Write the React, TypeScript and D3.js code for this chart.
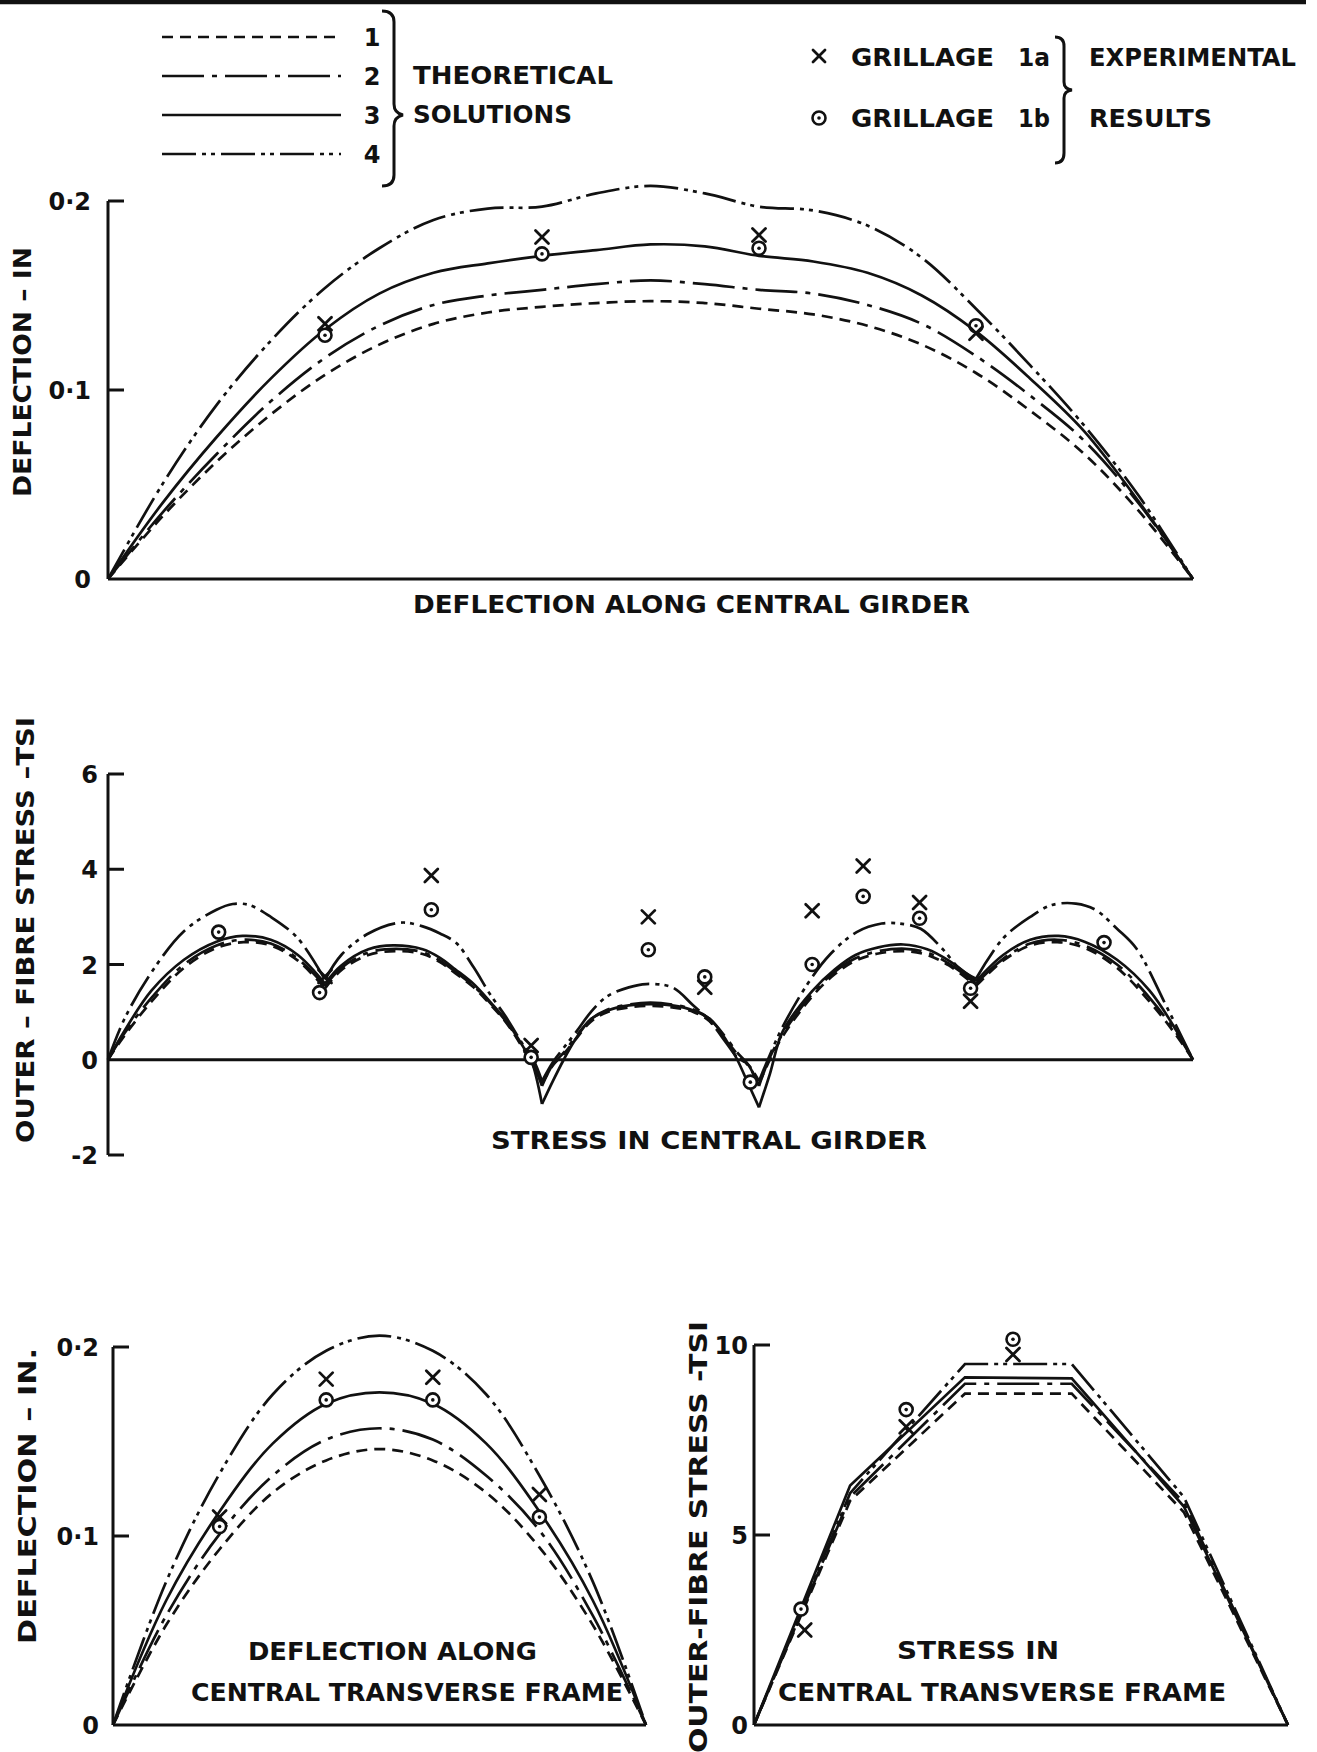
import React from 'react';
import * as d3 from 'd3';

type Pt = [number, number];

// ---------------- legend texts ----------------
const solutionNumbers = ['1', '2', '3', '4'];
const theoreticalText = ['THEORETICAL', 'SOLUTIONS'];
const grillageNames = ['GRILLAGE', 'GRILLAGE'];
const grillageIds = ['1a', '1b'];
const experimentalText = ['EXPERIMENTAL', 'RESULTS'];

// ---------------- panel 1 : deflection along central girder ----------------
const girderStations = [0, 0.05, 0.1, 0.15, 0.2, 0.25, 0.3, 0.35, 0.4, 0.45, 0.5, 0.55, 0.6, 0.65, 0.7, 0.75, 0.8, 0.85, 0.9, 0.95, 1];
const girderDefl1 = [0, 0.033, 0.062, 0.087, 0.108, 0.124, 0.135, 0.141, 0.144, 0.146, 0.147, 0.146, 0.143, 0.140, 0.134, 0.124, 0.109, 0.089, 0.066, 0.036, 0];
const girderDefl2 = [0, 0.035, 0.066, 0.094, 0.117, 0.134, 0.145, 0.150, 0.153, 0.156, 0.158, 0.156, 0.153, 0.151, 0.145, 0.135, 0.118, 0.097, 0.073, 0.040, 0];
const girderDefl3 = [0, 0.040, 0.075, 0.106, 0.132, 0.151, 0.162, 0.167, 0.171, 0.174, 0.177, 0.176, 0.171, 0.168, 0.162, 0.150, 0.131, 0.106, 0.078, 0.041, 0];
const girderDefl4 = [0, 0.050, 0.092, 0.126, 0.154, 0.175, 0.190, 0.196, 0.197, 0.204, 0.208, 0.204, 0.197, 0.195, 0.187, 0.170, 0.143, 0.113, 0.081, 0.044, 0];
const girderDeflExpA: Pt[] = [[0.2, 0.135], [0.4, 0.181], [0.6, 0.182], [0.8, 0.130]];
const girderDeflExpB: Pt[] = [[0.2, 0.129], [0.4, 0.172], [0.6, 0.175], [0.8, 0.134]];
const deflTicks = [0.2, 0.1, 0];
const deflTickLabels = ['0·2', '0·1', '0'];

// ---------------- panel 2 : stress in central girder ----------------
const girderStressCusps = [0.2, 0.4, 0.6, 0.8];
const girderStress1: Pt[] = [
  [0, 0], [0.015, 0.5], [0.04, 1.22], [0.07, 1.93], [0.1, 2.35], [0.125, 2.47], [0.15, 2.4], [0.175, 2.08], [0.2, 1.5],
  [0.215, 1.88], [0.24, 2.2], [0.265, 2.28], [0.29, 2.22], [0.306, 2.05], [0.32, 1.82], [0.337, 1.52], [0.352, 1.17], [0.367, 0.78], [0.383, 0.22], [0.39, -0.05], [0.4, -0.5],
  [0.41, -0.12], [0.42, 0.12], [0.43, 0.4], [0.445, 0.8], [0.46, 1.0], [0.48, 1.1], [0.5, 1.13], [0.52, 1.1], [0.54, 1.0], [0.555, 0.8], [0.57, 0.4], [0.58, 0.12], [0.59, -0.12], [0.6, -0.5],
  [0.61, 0.0], [0.622, 0.5], [0.649, 1.33], [0.67, 1.8], [0.689, 2.08], [0.71, 2.23], [0.735, 2.28], [0.755, 2.2], [0.775, 1.98], [0.8, 1.55],
  [0.825, 2.08], [0.85, 2.4], [0.875, 2.47], [0.9, 2.35], [0.93, 1.93], [0.96, 1.22], [0.985, 0.5], [1, 0],
];
const girderStress2: Pt[] = [
  [0, 0], [0.015, 0.55], [0.04, 1.3], [0.07, 2.0], [0.1, 2.4], [0.125, 2.52], [0.15, 2.44], [0.175, 2.12], [0.2, 1.55],
  [0.215, 1.93], [0.24, 2.25], [0.265, 2.33], [0.29, 2.26], [0.306, 2.08], [0.32, 1.85], [0.337, 1.55], [0.352, 1.2], [0.367, 0.8], [0.383, 0.25], [0.39, 0], [0.4, -0.55],
  [0.41, -0.1], [0.42, 0.15], [0.43, 0.45], [0.445, 0.85], [0.46, 1.05], [0.48, 1.16], [0.5, 1.2], [0.52, 1.16], [0.54, 1.05], [0.555, 0.85], [0.57, 0.45], [0.58, 0.15], [0.59, -0.1], [0.6, -0.55],
  [0.61, 0.05], [0.622, 0.55], [0.649, 1.38], [0.67, 1.85], [0.689, 2.13], [0.71, 2.28], [0.735, 2.33], [0.755, 2.25], [0.775, 2.02], [0.8, 1.6],
  [0.825, 2.12], [0.85, 2.44], [0.875, 2.52], [0.9, 2.4], [0.93, 2.0], [0.96, 1.3], [0.985, 0.55], [1, 0],
];
const girderStress3: Pt[] = [
  [0, 0], [0.015, 0.6], [0.04, 1.45], [0.07, 2.1], [0.1, 2.48], [0.124, 2.6], [0.15, 2.52], [0.175, 2.2], [0.2, 1.6],
  [0.215, 1.98], [0.24, 2.32], [0.263, 2.4], [0.29, 2.32], [0.306, 2.14], [0.32, 1.9], [0.337, 1.59], [0.352, 1.22], [0.367, 0.82], [0.383, 0.26], [0.39, 0], [0.4, -0.93],
  [0.41, -0.45], [0.42, 0], [0.43, 0.4], [0.445, 0.85], [0.46, 1.03], [0.48, 1.14], [0.5, 1.17], [0.52, 1.14], [0.54, 1.03], [0.555, 0.85], [0.57, 0.4], [0.58, 0], [0.59, -0.5], [0.6, -1.0],
  [0.61, -0.3], [0.622, 0.6], [0.649, 1.44], [0.67, 1.9], [0.689, 2.2], [0.71, 2.36], [0.733, 2.42], [0.755, 2.32], [0.775, 2.08], [0.8, 1.65],
  [0.825, 2.2], [0.85, 2.52], [0.876, 2.6], [0.9, 2.48], [0.93, 2.1], [0.96, 1.45], [0.985, 0.6], [1, 0],
];
const girderStress4: Pt[] = [
  [0, 0], [0.015, 0.85], [0.039, 1.8], [0.07, 2.7], [0.1, 3.15], [0.115, 3.27], [0.13, 3.25], [0.15, 3.0], [0.175, 2.55], [0.2, 1.68],
  [0.215, 2.2], [0.24, 2.65], [0.27, 2.88], [0.29, 2.8], [0.306, 2.65], [0.321, 2.45], [0.337, 1.94], [0.352, 1.38], [0.367, 0.89], [0.383, 0.3], [0.392, 0], [0.4, -0.45],
  [0.41, -0.05], [0.42, 0.25], [0.432, 0.6], [0.445, 1.0], [0.46, 1.33], [0.48, 1.52], [0.496, 1.59], [0.52, 1.52], [0.539, 1.15], [0.555, 0.8], [0.57, 0.35], [0.58, 0.05], [0.59, -0.1], [0.6, -0.45],
  [0.61, 0.1], [0.622, 0.7], [0.645, 1.6], [0.665, 2.2], [0.69, 2.68], [0.713, 2.86], [0.73, 2.86], [0.749, 2.75], [0.769, 2.33], [0.785, 1.91], [0.8, 1.7],
  [0.825, 2.55], [0.85, 3.0], [0.87, 3.25], [0.892, 3.28], [0.91, 3.15], [0.93, 2.75], [0.948, 2.33], [0.976, 1.1], [1, 0],
];
const girderStressExpA: Pt[] = [[0.2, 1.75], [0.298, 3.87], [0.39, 0.3], [0.498, 3.0], [0.55, 1.52], [0.649, 3.13], [0.696, 4.07], [0.748, 3.3], [0.795, 1.23]];
const girderStressExpB: Pt[] = [[0.102, 2.68], [0.195, 1.41], [0.298, 3.15], [0.39, 0.05], [0.498, 2.31], [0.55, 1.74], [0.592, -0.47], [0.649, 2.0], [0.696, 3.43], [0.748, 2.97], [0.795, 1.5], [0.918, 2.46]];
const stressTicks = [6, 4, 2, 0, -2];
const stressTickLabels = ['6', '4', '2', '0', '-2'];

// ---------------- panel 3 : deflection along central transverse frame ----------------
const frameStations = [0, 0.1, 0.2, 0.3, 0.4, 0.5, 0.6, 0.7, 0.8, 0.9, 1];
const frameDefl1 = [0, 0.053, 0.093, 0.123, 0.140, 0.146, 0.140, 0.123, 0.094, 0.053, 0];
const frameDefl2 = [0, 0.058, 0.101, 0.132, 0.151, 0.157, 0.151, 0.132, 0.103, 0.058, 0];
const frameDefl3 = [0, 0.066, 0.113, 0.149, 0.170, 0.176, 0.170, 0.149, 0.113, 0.066, 0];
const frameDefl4 = [0, 0.076, 0.133, 0.175, 0.198, 0.206, 0.198, 0.175, 0.132, 0.076, 0];
const frameDeflExpA: Pt[] = [[0.2, 0.110], [0.4, 0.183], [0.6, 0.184], [0.8, 0.122]];
const frameDeflExpB: Pt[] = [[0.2, 0.105], [0.4, 0.172], [0.6, 0.172], [0.8, 0.110]];

// ---------------- panel 4 : stress in central transverse frame ----------------
const frameNodes = [0, 0.18, 0.395, 0.595, 0.805, 1];
const frameStress1 = [0, 5.9, 8.72, 8.72, 5.6, 0];
const frameStress2 = [0, 6.0, 8.98, 8.98, 5.85, 0];
const frameStress3 = [0, 6.3, 9.15, 9.12, 5.75, 0];
const frameStress4 = [0, 6.1, 9.5, 9.5, 6.0, 0];
const frameStressExpA: Pt[] = [[0.095, 2.5], [0.285, 7.85], [0.485, 9.75]];
const frameStressExpB: Pt[] = [[0.088, 3.05], [0.285, 8.3], [0.485, 10.15]];
const frameStressTicks = [10, 5, 0];
const frameStressTickLabels = ['10', '5', '0'];

// ---------------- styles ----------------
const FONT = "'DejaVu Sans', 'Liberation Sans', sans-serif";
const INK = '#111';
const DASHES = ['11 7', '42 8 5 8', '', '34 6 4 5 4 6'];
const CURVE_W = 2.7;
const AXIS_W = 3;

const zip = (xs: number[], ys: number[]): Pt[] => xs.map((x, i) => [x, ys[i]] as Pt);

function splitAt(points: Pt[], cusps: number[]): Pt[][] {
  const segs: Pt[][] = [];
  let cur: Pt[] = [];
  points.forEach((p) => {
    cur.push(p);
    if (cusps.some((c) => Math.abs(c - p[0]) < 1e-9)) {
      segs.push(cur);
      cur = [p];
    }
  });
  if (cur.length > 1) segs.push(cur);
  return segs;
}

const Cross = ({ x, y, s = 6.5 }: { x: number; y: number; s?: number }) => (
  <g stroke={INK} strokeWidth={2.8} strokeLinecap="round">
    <line x1={x - s} y1={y - s} x2={x + s} y2={y + s} />
    <line x1={x - s} y1={y + s} x2={x + s} y2={y - s} />
  </g>
);
const Ring = ({ x, y, r = 6.5 }: { x: number; y: number; r?: number }) => (
  <g>
    <circle cx={x} cy={y} r={r} fill="white" stroke={INK} strokeWidth={2.6} />
    <circle cx={x} cy={y} r={1.8} fill={INK} />
  </g>
);

type Txt = { t: string; x: number; y: number; len?: number; size?: number; anchor?: 'start' | 'middle' | 'end'; rot?: boolean };
const T = ({ t, x, y, len, size = 24, anchor = 'start', rot }: Txt) => (
  <text
    x={x}
    y={y}
    fontFamily={FONT}
    fontWeight="bold"
    fontSize={size}
    fill={INK}
    textAnchor={anchor}
    textLength={len}
    lengthAdjust={len ? 'spacingAndGlyphs' : undefined}
    transform={rot ? `rotate(-90 ${x} ${y})` : undefined}
  >
    {t}
  </text>
);

type PanelProps = {
  x0: number; x1: number; yA: number; yB: number; dom: [number, number];
  series: Pt[][][]; // per solution, list of segments
  curve: d3.CurveFactory;
  expA: Pt[]; expB: Pt[];
  ticks: number[]; tickLabels: string[]; labelRight: number; tickSize?: number;
  axisTop: number; axisBottom: number;
};

function Panel(p: PanelProps) {
  const xs = d3.scaleLinear().domain([0, 1]).range([p.x0, p.x1]);
  const ys = d3.scaleLinear().domain(p.dom).range([p.yB, p.yA]);
  const line = d3.line<Pt>().x((d) => xs(d[0])).y((d) => ys(d[1])).curve(p.curve);
  const y0 = ys(0);
  return (
    <g>
      <line x1={p.x0} y1={ys(p.axisTop)} x2={p.x0} y2={ys(p.axisBottom)} stroke={INK} strokeWidth={AXIS_W} />
      <line x1={p.x0} y1={y0} x2={p.x1} y2={y0} stroke={INK} strokeWidth={AXIS_W} />
      {p.ticks.map((v, i) => (
        <g key={i}>
          {v !== 0 && <line x1={p.x0} y1={ys(v)} x2={p.x0 + (p.tickSize ?? 16)} y2={ys(v)} stroke={INK} strokeWidth={AXIS_W} />}
          <T t={p.tickLabels[i]} x={p.labelRight} y={ys(v) + 9} anchor="end" size={24} />
        </g>
      ))}
      {p.series.map((segs, k) =>
        segs.map((seg, j) => (
          <path
            key={`${k}-${j}`}
            d={line(seg) || ''}
            fill="none"
            stroke={INK}
            strokeWidth={CURVE_W}
            strokeDasharray={DASHES[k] || undefined}
            strokeLinejoin="miter"
          />
        ))
      )}
      {p.expB.map((d, i) => <Ring key={'b' + i} x={xs(d[0])} y={ys(d[1])} />)}
      {p.expA.map((d, i) => <Cross key={'a' + i} x={xs(d[0])} y={ys(d[1])} />)}
    </g>
  );
}

export default function App() {
  const legendY = [37, 76, 115, 154];
  const legendX0 = 162;
  const legendX1 = 341;
  const expRows = [57, 118];

  const girderDefl = [girderDefl1, girderDefl2, girderDefl3, girderDefl4].map((s) => [zip(girderStations, s)]);
  const girderStress = [girderStress1, girderStress2, girderStress3, girderStress4].map((s) => splitAt(s, girderStressCusps));
  const frameDefl = [frameDefl1, frameDefl2, frameDefl3, frameDefl4].map((s) => [zip(frameStations, s)]);
  const frameStress = [frameStress1, frameStress2, frameStress3, frameStress4].map((s) => [zip(frameNodes, s)]);

  return (
    <div style={{ position: 'absolute', left: 0, top: 0, background: 'white' }}>
      <svg width={1317} height={1752} viewBox="0 0 1317 1752" style={{ display: 'block' }}>
        <rect width={1317} height={1752} fill="white" />
        <line x1={0} y1={2} x2={1306} y2={2} stroke={INK} strokeWidth={4.5} />

        {/* ---------- legend left ---------- */}
        {legendY.map((y, i) => (
          <g key={i}>
            <line x1={legendX0} y1={y} x2={legendX1} y2={y} stroke={INK} strokeWidth={CURVE_W} strokeDasharray={DASHES[i] || undefined} />
            <T t={solutionNumbers[i]} x={372} y={y + 9} anchor="middle" size={24} />
          </g>
        ))}
        <path
          d="M 382 11 Q 394 11 394 22 L 394 104 Q 394 113 403 115 Q 394 117 394 126 L 394 175 Q 394 186 382 186"
          fill="none" stroke={INK} strokeWidth={3}
        />
        <T t={theoreticalText[0]} x={413} y={84} len={200} size={25} />
        <T t={theoreticalText[1]} x={413} y={123} len={159} size={25} />

        {/* ---------- legend right ---------- */}
        <Cross x={819} y={expRows[0] - 1} s={6} />
        <Ring x={819} y={expRows[1]} r={6.5} />
        {expRows.map((y, i) => (
          <g key={i}>
            <T t={grillageNames[i]} x={851} y={y + 9} len={143} size={25} />
            <T t={grillageIds[i]} x={1018} y={y + 9} len={32} size={25} />
            <T t={experimentalText[i]} x={1089} y={y + 9} len={i === 0 ? 207 : 123} size={25} />
          </g>
        ))}
        <path
          d="M 1055 37 Q 1064 37 1064 46 L 1064 82 Q 1064 89 1072 90 Q 1064 91 1064 98 L 1064 153 Q 1064 163 1055 163"
          fill="none" stroke={INK} strokeWidth={3}
        />

        {/* ---------- panel 1 ---------- */}
        <Panel
          x0={108} x1={1193} yA={201} yB={579} dom={[0, 0.2]}
          series={girderDefl} curve={d3.curveCatmullRom.alpha(0.5)}
          expA={girderDeflExpA} expB={girderDeflExpB}
          ticks={deflTicks} tickLabels={deflTickLabels} labelRight={91}
          axisTop={0.2} axisBottom={0}
        />
        <T t="DEFLECTION – IN" x={31} y={372} len={250} size={24} anchor="middle" rot />
        <T t="DEFLECTION  ALONG  CENTRAL  GIRDER" x={413} y={613} len={557} size={25} />

        {/* ---------- panel 2 ---------- */}
        <Panel
          x0={108} x1={1193} yA={774} yB={1155} dom={[-2, 6]}
          series={girderStress} curve={d3.curveCatmullRom.alpha(0.5)}
          expA={girderStressExpA} expB={girderStressExpB}
          ticks={stressTicks} tickLabels={stressTickLabels} labelRight={98}
          axisTop={6} axisBottom={-2}
        />
        <T t="OUTER  –  FIBRE  STRESS  –TSI" x={34} y={930} len={426} size={24} anchor="middle" rot />
        <T t="STRESS  IN  CENTRAL  GIRDER" x={491} y={1149} len={436} size={25} />

        {/* ---------- panel 3 ---------- */}
        <Panel
          x0={113} x1={646} yA={1347} yB={1725} dom={[0, 0.2]}
          series={frameDefl} curve={d3.curveCatmullRom.alpha(0.5)}
          expA={frameDeflExpA} expB={frameDeflExpB}
          ticks={deflTicks} tickLabels={deflTickLabels} labelRight={99}
          axisTop={0.2} axisBottom={0}
        />
        <T t="DEFLECTION – IN." x={36} y={1496} len={296} size={24} anchor="middle" rot />
        <T t="DEFLECTION  ALONG" x={248} y={1660} len={289} size={25} />
        <T t="CENTRAL  TRANSVERSE  FRAME" x={191} y={1701} len={432} size={25} />

        {/* ---------- panel 4 ---------- */}
        <Panel
          x0={754} x1={1288} yA={1345} yB={1725} dom={[0, 10]}
          series={frameStress} curve={d3.curveLinear}
          expA={frameStressExpA} expB={frameStressExpB}
          ticks={frameStressTicks} tickLabels={frameStressTickLabels} labelRight={748}
          axisTop={10} axisBottom={0}
        />
        <T t="OUTER-FIBRE  STRESS -TSI" x={707} y={1537} len={432} size={24} anchor="middle" rot />
        <T t="STRESS   IN" x={897} y={1659} len={162} size={25} />
        <T t="CENTRAL  TRANSVERSE  FRAME" x={778} y={1701} len={448} size={25} />
      </svg>
    </div>
  );
}
